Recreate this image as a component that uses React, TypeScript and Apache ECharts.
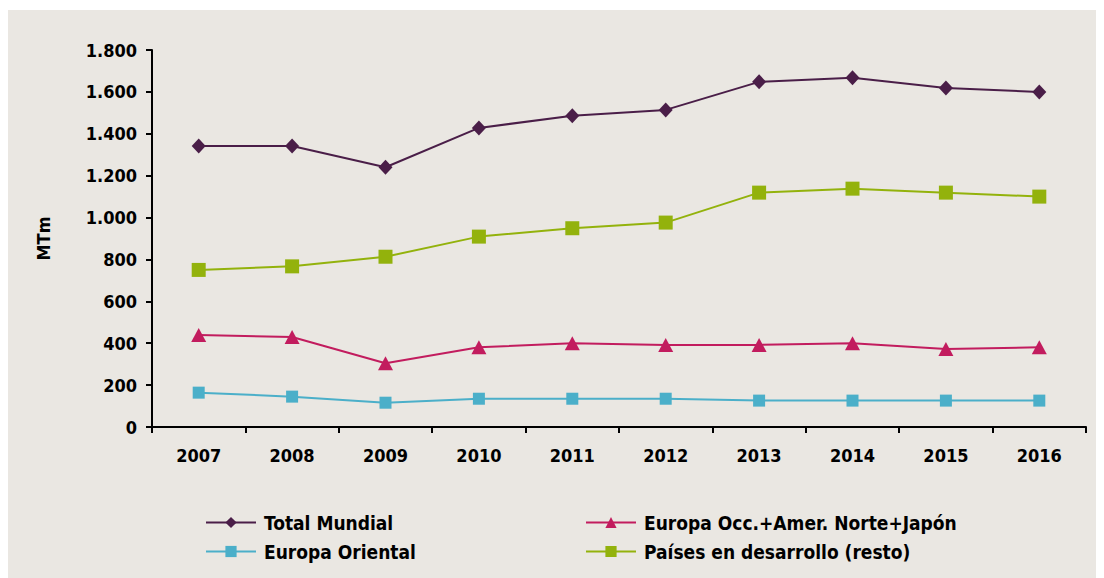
import React, { useEffect, useRef } from "react";
import * as echarts from "echarts";

const years = ["2007", "2008", "2009", "2010", "2011", "2012", "2013", "2014", "2015", "2016"];
const totalMundial = [1342, 1342, 1240, 1428, 1486, 1514, 1648, 1667, 1619, 1600];
const europaOcc = [439, 430, 304, 381, 400, 392, 392, 400, 372, 381];
const europaOriental = [164, 145, 116, 135, 135, 135, 126, 126, 126, 126];
const paisesDesarrollo = [750, 767, 813, 909, 949, 976, 1119, 1138, 1119, 1100];

const FONT = "'DejaVu Sans Condensed', 'DejaVu Sans', sans-serif";

export default function App() {
  const ref = useRef<HTMLDivElement>(null);
  useEffect(() => {
    const chart = echarts.init(ref.current!, null, { renderer: "svg" });
    const mk = (name: string, data: number[], color: string, symbol: string, size: number | number[]) => ({
      name,
      type: "line",
      data,
      symbol,
      symbolSize: size,
      showAllSymbol: true,
      lineStyle: { color, width: 2 },
      itemStyle: { color },
    });
    const legendText = { fontFamily: FONT, fontWeight: "bold", fontSize: 19, color: "#000", padding: [0, 0, 0, 3] };
    chart.setOption({
      animation: false,
      backgroundColor: "#EAE7E2",
      textStyle: { fontFamily: FONT },
      grid: { left: 144, right: 18, top: 40, bottom: 151 },
      legend: [
        {
          orient: "vertical",
          left: 192,
          top: 498,
          padding: 5,
          itemWidth: 50,
          itemHeight: 14,
          itemGap: 10,
          data: ["Total Mundial", "Europa Oriental"],
          textStyle: legendText,
        },
        {
          orient: "vertical",
          left: 572,
          top: 498,
          padding: 5,
          itemWidth: 50,
          itemHeight: 14,
          itemGap: 10,
          data: ["Europa Occ.+Amer. Norte+Japón", "Países en desarrollo (resto)"],
          textStyle: legendText,
        },
      ],
      xAxis: {
        type: "category",
        data: years,
        boundaryGap: true,
        axisLine: { lineStyle: { color: "#000", width: 2 } },
        axisTick: { show: true, length: 6, lineStyle: { color: "#000", width: 2 } },
        axisLabel: { color: "#000", fontWeight: "bold", fontSize: 18, margin: 19, fontFamily: FONT },
      },
      yAxis: {
        type: "value",
        min: 0,
        max: 1800,
        interval: 200,
        name: "MTm",
        nameLocation: "middle",
        nameGap: 100,
        nameRotate: 90,
        nameTextStyle: { color: "#000", fontWeight: "bold", fontSize: 18, fontFamily: FONT },
        axisLine: { show: true, lineStyle: { color: "#000", width: 2 } },
        axisTick: { show: true, length: 6, lineStyle: { color: "#000", width: 2 } },
        splitLine: { show: false },
        axisLabel: {
          color: "#000",
          fontWeight: "bold",
          fontSize: 18,
          margin: 15,
          fontFamily: FONT,
          formatter: (v: number) => (v >= 1000 ? Math.floor(v / 1000) + "." + String(v % 1000).padStart(3, "0") : String(v)),
        },
      },
      series: [
        mk("Total Mundial", totalMundial, "#4A1E48", "diamond", [14, 15]),
        mk("Europa Occ.+Amer. Norte+Japón", europaOcc, "#C21C5E", "triangle", [15, 14]),
        mk("Europa Oriental", europaOriental, "#4BAFC9", "rect", 12),
        mk("Países en desarrollo (resto)", paisesDesarrollo, "#93B20C", "rect", 14),
      ],
    });
    return () => chart.dispose();
  }, []);
  return <div ref={ref} style={{ width: 1096, height: 568, marginTop: 2 }} />;
}
